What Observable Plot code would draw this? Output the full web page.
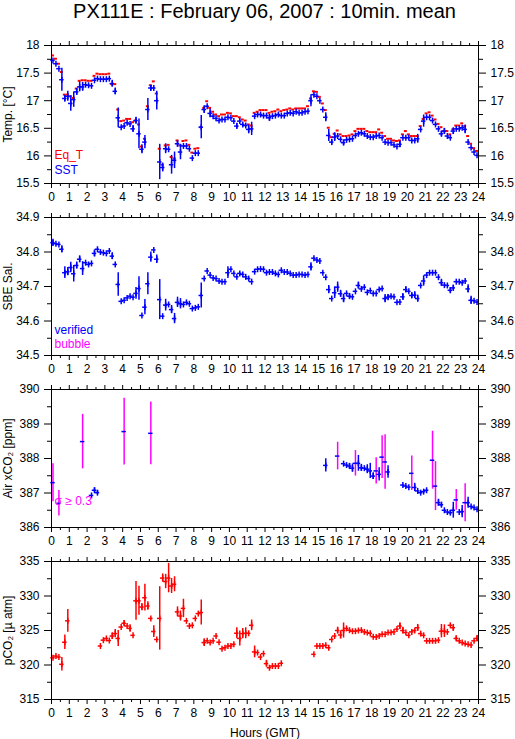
<!DOCTYPE html>
<html><head><meta charset="utf-8">
<script src="https://cdn.jsdelivr.net/npm/d3@7"></script>
<script src="https://cdn.jsdelivr.net/npm/@observablehq/plot@0.6"></script>
<style>
body{margin:0;background:#fff;font-family:"Liberation Sans",Arial,Helvetica,sans-serif;width:515px;}
#title{position:relative;height:37px;}
#title span{position:absolute;left:51px;width:427px;top:0;line-height:23px;text-align:center;font-size:20px;color:#000;white-space:nowrap;}
#chart svg{display:block;}
</style></head><body>
<div id="title"><span>PX111E : February 06, 2007 : 10min. mean</span></div>
<div id="chart"></div>
<script>
// ---- tick labels ----
const hourTicks = [0,1,2,3,4,5,6,7,8,9,10,11,12,13,14,15,16,17,18,19,20,21,22,23,24];
const halfHourTicks = [0.5,1.5,2.5,3.5,4.5,5.5,6.5,7.5,8.5,9.5,10.5,11.5,12.5,13.5,14.5,15.5,16.5,17.5,18.5,19.5,20.5,21.5,22.5,23.5];
const tempTicks = [15.5,16,16.5,17,17.5,18];
const tempMinor = [15.75,16.25,16.75,17.25,17.75];
const salTicks = [34.5,34.6,34.7,34.8,34.9];
const salMinor = [34.55,34.65,34.75,34.85];
const airTicks = [386,387,388,389,390];
const airMinor = [386.5,387.5,388.5,389.5];
const pco2Ticks = [315,320,325,330,335];
const pco2Minor = [317.5,322.5,327.5,332.5];

// ---- 10-minute slots (0..143) ----
const slotIndex = d3.range(144);

// ---- Temperature (°C) ----
const sst = [
17.73,17.67,17.58,17.38,17.04,17.08,16.95,17.02,17.16,17.25,
17.25,17.29,17.28,17.27,17.37,17.40,17.39,17.39,17.39,17.40,
17.31,17.17,16.69,16.52,16.54,16.60,16.58,16.49,16.64,16.40,
16.12,16.25,16.84,17.23,17.23,17.00,15.89,15.79,16.13,16.12,
15.84,15.92,16.22,16.07,16.18,16.18,16.13,15.96,16.05,16.05,
16.52,16.84,16.90,16.77,16.72,16.68,16.64,16.66,16.66,16.70,
16.69,16.63,16.54,16.63,16.57,16.55,16.48,16.49,16.72,16.75,
16.75,16.73,16.73,16.69,16.72,16.73,16.75,16.73,16.73,16.77,
16.78,16.77,16.80,16.78,16.78,16.80,16.81,17.00,17.11,17.08,
17.00,16.84,16.70,16.37,16.25,16.34,16.36,16.30,16.24,16.29,
16.30,16.31,16.37,16.40,16.42,16.40,16.36,16.34,16.34,16.36,
16.37,16.33,16.25,16.24,16.24,16.20,16.17,16.21,16.33,16.33,
16.33,16.28,16.28,16.31,16.48,16.63,16.70,16.70,16.64,16.57,
16.49,16.40,16.45,16.36,16.33,16.45,16.49,16.49,16.51,16.48,
16.25,16.15,16.07,16.01];
const sstErr = [
0.00,0.00,0.00,0.21,0.06,0.09,0.14,0.14,0.06,0.09,
0.08,0.00,0.00,0.00,0.00,0.00,0.00,0.00,0.00,0.00,
0.06,0.06,0.18,0.00,0.00,0.00,0.00,0.06,0.06,0.27,
0.08,0.12,0.20,0.05,0.00,0.17,0.32,0.08,0.09,0.00,
0.17,0.15,0.06,0.14,0.00,0.00,0.00,0.00,0.00,0.00,
0.21,0.07,0.00,0.08,0.00,0.00,0.00,0.00,0.00,0.00,
0.00,0.00,0.05,0.00,0.00,0.00,0.08,0.12,0.00,0.00,
0.00,0.00,0.00,0.06,0.00,0.00,0.00,0.00,0.00,0.00,
0.00,0.00,0.00,0.00,0.00,0.00,0.00,0.11,0.00,0.00,
0.00,0.00,0.08,0.11,0.05,0.08,0.00,0.00,0.05,0.00,
0.00,0.00,0.00,0.00,0.00,0.00,0.00,0.00,0.00,0.00,
0.00,0.00,0.00,0.00,0.00,0.00,0.00,0.06,0.00,0.00,
0.00,0.00,0.00,0.08,0.00,0.11,0.00,0.00,0.00,0.00,
0.00,0.05,0.05,0.00,0.00,0.06,0.00,0.00,0.00,0.08,
0.00,0.00,0.00,0.00];
const eqT = [
17.82,17.76,17.67,17.52,17.11,17.11,17.08,17.05,17.22,17.36,
17.37,17.37,17.36,17.36,17.45,17.49,17.48,17.48,17.48,17.49,
17.30,17.30,16.84,16.63,16.64,16.67,16.67,16.61,16.64,16.57,
16.17,16.31,16.90,17.28,17.35,17.13,16.13,15.84,16.19,16.20,
15.98,15.95,16.28,16.19,16.27,16.28,16.20,16.06,16.13,16.14,
16.52,16.87,16.99,16.87,16.80,16.75,16.72,16.75,16.75,16.78,
16.77,16.72,16.72,16.70,16.66,16.64,16.57,16.55,16.78,16.80,
16.83,16.83,16.83,16.78,16.80,16.81,16.84,16.81,16.83,16.84,
16.86,16.84,16.86,16.86,16.86,16.86,16.90,17.04,17.17,17.16,
17.07,16.95,16.83,16.51,16.34,16.40,16.46,16.39,16.36,16.36,
16.37,16.39,16.45,16.49,16.49,16.49,16.45,16.43,16.43,16.43,
16.48,16.42,16.36,16.31,16.31,16.28,16.27,16.28,16.39,16.45,
16.39,16.36,16.36,16.36,16.54,16.67,16.77,16.79,16.73,16.66,
16.58,16.52,16.45,16.45,16.39,16.48,16.55,16.55,16.59,16.54,
16.36,16.22,16.14,16.09];

// ---- SBE salinity ----
const sal = [
34.827,34.824,34.822,34.808,34.740,34.743,34.755,34.737,34.761,34.779,
34.752,34.769,34.764,34.767,34.796,34.808,34.800,34.798,34.796,34.803,
34.788,34.764,34.706,34.657,34.660,34.667,34.672,34.669,34.680,34.694,
34.616,34.640,34.708,34.785,34.806,34.779,34.662,34.614,34.646,34.648,
34.633,34.607,34.654,34.650,34.648,34.654,34.650,34.636,34.638,34.641,
34.674,34.723,34.745,34.733,34.725,34.723,34.716,34.714,34.714,34.740,
34.750,34.738,34.728,34.738,34.735,34.728,34.723,34.714,34.743,34.750,
34.751,34.750,34.740,34.742,34.742,34.738,34.735,34.747,34.742,34.742,
34.738,34.733,34.733,34.735,34.735,34.733,34.735,34.757,34.782,34.777,
34.774,34.740,34.727,34.691,34.665,34.682,34.698,34.679,34.665,34.680,
34.672,34.670,34.686,34.703,34.693,34.698,34.683,34.688,34.680,34.680,
34.691,34.694,34.665,34.669,34.672,34.670,34.654,34.655,34.670,34.691,
34.686,34.674,34.675,34.665,34.703,34.716,34.733,34.740,34.740,34.740,
34.727,34.711,34.704,34.703,34.689,34.696,34.714,34.714,34.711,34.716,
34.693,34.660,34.659,34.655];
const salErr = [
0.010,0.000,0.000,0.010,0.017,0.012,0.015,0.024,0.010,0.010,
0.020,0.000,0.000,0.000,0.010,0.000,0.000,0.000,0.000,0.000,
0.010,0.000,0.034,0.000,0.000,0.000,0.000,0.000,0.017,0.034,
0.000,0.022,0.032,0.015,0.000,0.012,0.058,0.000,0.017,0.000,
0.012,0.015,0.015,0.015,0.000,0.000,0.000,0.000,0.000,0.000,
0.036,0.000,0.000,0.000,0.000,0.000,0.000,0.000,0.000,0.017,
0.000,0.000,0.000,0.000,0.000,0.000,0.000,0.000,0.000,0.000,
0.000,0.000,0.000,0.000,0.000,0.000,0.000,0.000,0.000,0.000,
0.000,0.000,0.000,0.000,0.000,0.000,0.000,0.012,0.000,0.000,
0.000,0.000,0.000,0.012,0.000,0.017,0.015,0.010,0.012,0.000,
0.008,0.000,0.000,0.010,0.000,0.000,0.000,0.000,0.000,0.000,
0.000,0.000,0.012,0.008,0.000,0.000,0.000,0.000,0.010,0.008,
0.000,0.008,0.010,0.010,0.000,0.015,0.000,0.000,0.000,0.000,
0.000,0.010,0.000,0.000,0.008,0.008,0.000,0.000,0.000,0.000,
0.012,0.012,0.000,0.000];

// ---- Air xCO2 (ppm), only slots with data ----
const airSlot = [0,2,10,13,14,15,24,33,92,96,98,99,100,101,102,103,104,105,106,107,108,109,110,111,112,113,118,119,120,121,122,123,124,125,126,128,129,130,131,132,133,134,135,136,137,138,139,140,141,142,143];
const airCO2 = [387.30,386.70,388.49,386.93,387.08,387.01,388.78,388.73,387.80,388.07,387.85,387.81,387.78,387.72,387.86,387.86,387.73,387.72,387.69,387.64,387.49,387.64,387.54,388.04,387.90,387.61,387.23,387.20,387.17,387.57,387.16,387.06,387.01,387.04,387.08,387.95,387.20,386.72,386.66,386.50,386.45,386.43,386.50,386.80,386.45,386.46,386.72,386.72,386.61,386.58,386.53];
const airSigma = [0.55,0.37,0.79,0.00,0.07,0.06,0.97,0.91,0.19,0.40,0.00,0.00,0.08,0.12,0.37,0.23,0.10,0.00,0.13,0.22,0.10,0.38,0.19,0.62,0.79,0.18,0.00,0.00,0.00,0.50,0.12,0.00,0.00,0.00,0.00,0.84,0.71,0.10,0.07,0.00,0.00,0.06,0.23,0.30,0.00,0.18,0.55,0.16,0.00,0.00,0.00];
const sigmaLimit = 0.3;

// ---- pCO2 (µatm) ----
const pco2 = [
321.05,321.30,321.15,320.10,323.30,326.40,null,null,null,null,
null,null,null,null,null,null,322.75,323.60,323.85,323.55,
324.20,324.55,323.85,325.50,326.05,325.65,325.30,324.30,329.30,329.30,
328.40,329.75,328.55,326.75,324.85,323.70,326.75,332.60,332.10,332.60,
331.45,331.70,327.70,327.10,328.20,326.40,325.65,325.75,326.75,327.45,
327.60,323.25,323.50,323.25,323.50,324.20,323.30,322.35,322.50,322.75,
322.75,323.00,324.60,323.85,324.55,324.60,324.60,325.75,321.90,321.80,
321.15,321.65,320.20,319.60,319.85,319.85,319.85,320.25,null,null,
null,null,null,null,null,null,null,null,321.55,322.75,
322.75,322.75,322.85,322.50,323.70,324.20,325.00,324.35,325.00,325.30,
325.05,324.90,324.90,325.00,325.05,324.80,324.70,324.60,324.10,324.05,
324.20,324.45,324.45,324.70,324.70,324.80,325.20,325.65,325.00,324.70,
324.30,324.80,325.00,325.40,324.55,324.30,323.50,323.50,323.50,323.50,
323.60,324.90,324.90,324.80,325.75,325.40,323.85,323.50,323.25,323.10,
323.00,322.90,323.50,323.85];
const pco2Err = [
0.00,0.00,0.00,0.97,1.04,1.65,null,null,null,null,
null,null,null,null,null,null,0.00,0.00,0.00,0.00,
0.48,0.60,1.16,0.00,0.41,0.00,0.53,0.00,2.80,2.10,
0.53,1.94,0.63,0.00,0.85,0.00,4.60,0.60,1.04,2.13,
1.09,1.09,0.73,0.73,1.33,0.00,0.00,0.00,0.00,0.00,
1.82,0.56,0.00,0.00,0.00,0.00,0.00,0.00,0.00,0.00,
0.00,0.00,0.80,1.09,0.73,0.80,0.00,0.77,0.85,0.00,
0.00,0.00,0.48,0.00,0.00,0.00,0.00,0.00,null,null,
null,null,null,null,null,null,null,null,0.00,0.00,
0.00,0.00,0.00,0.00,0.00,0.00,0.48,0.60,1.09,0.00,
0.00,0.00,0.00,0.00,0.00,0.00,0.00,0.00,0.00,0.00,
0.00,0.00,0.00,0.00,0.00,0.00,0.00,0.48,0.48,0.00,
0.00,0.00,0.00,0.48,0.00,0.00,0.00,0.00,0.00,0.00,
0.00,0.97,0.92,0.00,0.00,0.48,0.36,0.00,0.00,0.00,
0.00,0.00,0.00,0.44];

// ---- styling ----
const FONT = '"Liberation Sans", Arial, Helvetica, sans-serif';
const BLUE = "#0000ff", RED = "#ff0000", MAGENTA = "#ff00ff";
const LW = 1.5;
// small vertical arm of the "+" marker (pixels), drawn as a custom symbol
const vArm = {draw(ctx) { ctx.moveTo(0, -3); ctx.lineTo(0, 3); }};

function rows(slots, values, errs) {
  return slots.map((k, i) => ({k, t0: k / 6, t1: (k + 1) / 6, tc: (k + 0.5) / 6, v: values[i], e: errs ? errs[i] : 0}))
    .filter(d => d.v != null);
}
function crosses(data, color, barColor) {
  const bars = data.filter(d => d.e > 0);
  return [
    Plot.ruleX(bars, {x: "tc", y1: d => d.v - d.e, y2: d => d.v + d.e, stroke: barColor || color, strokeWidth: LW}),
    Plot.dot(data, {x: "tc", y: "v", symbol: vArm, r: 3, fill: "none", stroke: color, strokeWidth: LW}),
    Plot.ruleY(data, {x1: "t0", x2: "t1", y: "v", stroke: color, strokeWidth: LW, strokeLinecap: "square"})
  ];
}
function note(str, color, dy) {
  return Plot.text([str], {text: d => d, frameAnchor: "bottom-left", dx: 3, dy, fill: color, textAnchor: "start", fontSize: 12});
}

function panel({domain, majors, minors, label, marks, height = 172, marginBottom = 26, xLabel = null}) {
  const blank = () => "";
  return Plot.plot({
    width: 515, height, marginLeft: 51, marginRight: 37, marginTop: 8, marginBottom,
    style: {fontFamily: FONT, fontSize: "12px", color: "black", background: "white", overflow: "visible"},
    x: {domain: [0, 24], axis: null},
    y: {domain, axis: null},
    marks: [
      ...marks,
      Plot.frame({stroke: "black", strokeWidth: 1}),
      Plot.axisX({anchor: "top", ticks: hourTicks, tickSize: 5, tickFormat: blank, label: null}),
      Plot.axisX({anchor: "top", ticks: halfHourTicks, tickSize: 3, tickFormat: blank, label: null}),
      Plot.axisX({anchor: "bottom", ticks: hourTicks, tickSize: 5, tickPadding: 4, tickFormat: d => String(d),
                  label: xLabel, labelAnchor: "center", labelOffset: 37, labelArrow: "none"}),
      Plot.axisX({anchor: "bottom", ticks: halfHourTicks, tickSize: 3, tickFormat: blank, label: null}),
      Plot.axisY({anchor: "left", ticks: majors, tickSize: 7, tickPadding: 5, tickFormat: d => String(d),
                  label, labelAnchor: "center", labelOffset: 48, labelArrow: "none"}),
      Plot.axisY({anchor: "left", ticks: minors, tickSize: 4, tickFormat: blank, label: null}),
      Plot.axisY({anchor: "right", ticks: majors, tickSize: 7, tickPadding: 5, tickFormat: d => String(d), label: null}),
      Plot.axisY({anchor: "right", ticks: minors, tickSize: 4, tickFormat: blank, label: null})
    ]
  });
}

const chart = document.getElementById("chart");

const eqRows = rows(slotIndex, eqT, null);
const sstRows = rows(slotIndex, sst, sstErr);
chart.append(panel({
  domain: [15.5, 18], majors: tempTicks, minors: tempMinor, label: "Temp. [°C]",
  marks: [
    Plot.ruleY(eqRows, {x1: "t0", x2: "t1", y: "v", stroke: RED, strokeWidth: 2}),
    ...crosses(sstRows, BLUE),
    note("Eq_T", RED, -25),
    note("SST", BLUE, -10)
  ]
}));

const salRows = rows(slotIndex, sal, salErr);
chart.append(panel({
  domain: [34.5, 34.9], majors: salTicks, minors: salMinor, label: "SBE Sal.",
  marks: [
    ...crosses(salRows, BLUE),
    note("verified", BLUE, -22),
    note("bubble", MAGENTA, -8)
  ]
}));

const airRows = rows(airSlot, airCO2, airSigma);
const airBars = airRows.filter(d => d.e > 0);
chart.append(panel({
  domain: [386, 390], majors: airTicks, minors: airMinor, label: "Air xCO₂ [ppm]",
  marks: [
    Plot.ruleX(airBars, {x: "tc", y1: d => d.v - d.e, y2: d => d.v + d.e,
      stroke: d => d.e >= sigmaLimit ? MAGENTA : BLUE, strokeWidth: LW}),
    Plot.dot(airRows.filter(d => d.e < sigmaLimit), {x: "tc", y: "v", symbol: vArm, r: 3, fill: "none", stroke: BLUE, strokeWidth: LW}),
    Plot.ruleY(airRows, {x1: "t0", x2: "t1", y: "v", stroke: BLUE, strokeWidth: LW, strokeLinecap: "square"}),
    note("σ ≥ 0.3", MAGENTA, -23)
  ]
}));

const pRows = rows(slotIndex, pco2, pco2Err);
chart.append(panel({
  domain: [315, 335], majors: pco2Ticks, minors: pco2Minor, label: "pCO₂ [µ atm]",
  height: 186, marginBottom: 40, xLabel: "Hours (GMT)",
  marks: [...crosses(pRows, RED)]
}));
</script>
</body></html>
